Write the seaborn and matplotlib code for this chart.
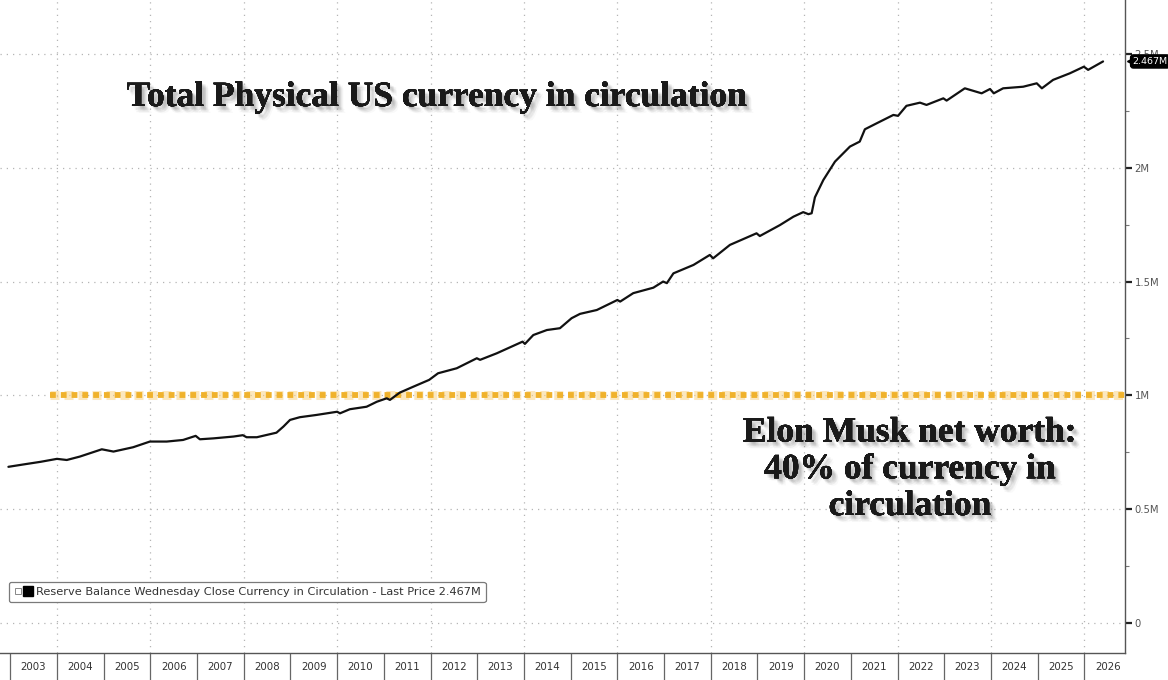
import matplotlib
matplotlib.use("Agg")
import matplotlib.pyplot as plt
import matplotlib.patheffects as pe
from matplotlib.lines import Line2D
from matplotlib.legend_handler import HandlerTuple
from matplotlib.ticker import FixedLocator, FuncFormatter, MultipleLocator
import matplotlib.transforms as mtransforms
import numpy as np
import pandas as pd
import seaborn as sns

# Weekly currency in circulation (trillions of USD, shown as "M" on the axis)
dates = [
    2002.96, 2003.30, 2003.65, 2004.00, 2004.21, 2004.49, 2004.96, 2005.21,
    2005.63, 2005.99, 2006.35, 2006.70, 2006.97, 2007.06, 2007.35, 2007.78,
    2007.98, 2008.06, 2008.28, 2008.49, 2008.70, 2008.85, 2008.99, 2009.20,
    2009.56, 2010.00, 2010.06, 2010.27, 2010.63, 2010.85, 2011.06, 2011.13,
    2011.34, 2011.63, 2011.97, 2012.16, 2012.56, 2012.99, 2013.06, 2013.42,
    2013.97, 2014.02, 2014.20, 2014.49, 2014.77, 2015.02, 2015.20, 2015.56,
    2016.00, 2016.06, 2016.34, 2016.77, 2016.98, 2017.06, 2017.20, 2017.63,
    2017.98, 2018.05, 2018.41, 2018.98, 2019.05, 2019.48, 2019.77, 2019.98,
    2020.09, 2020.16, 2020.23, 2020.41, 2020.66, 2020.98, 2021.19, 2021.30,
    2021.55, 2021.91, 2022.01, 2022.19, 2022.48, 2022.62, 2022.98, 2023.05,
    2023.44, 2023.80, 2023.98, 2024.06, 2024.26, 2024.69, 2024.98, 2025.09,
    2025.33, 2025.69, 2025.99, 2026.08, 2026.40,
]
currency = [
    0.686, 0.697, 0.708, 0.721, 0.716, 0.731, 0.763, 0.753,
    0.772, 0.797, 0.797, 0.804, 0.822, 0.807, 0.811, 0.819,
    0.825, 0.816, 0.816, 0.826, 0.836, 0.863, 0.892, 0.904,
    0.914, 0.928, 0.921, 0.939, 0.950, 0.972, 0.987, 0.980,
    1.012, 1.038, 1.068, 1.097, 1.119, 1.163, 1.156, 1.185,
    1.236, 1.226, 1.265, 1.287, 1.295, 1.339, 1.358, 1.375,
    1.419, 1.412, 1.449, 1.473, 1.500, 1.493, 1.536, 1.573,
    1.617, 1.602, 1.661, 1.712, 1.700, 1.748, 1.785, 1.805,
    1.796, 1.800, 1.870, 1.946, 2.027, 2.093, 2.115, 2.169,
    2.195, 2.232, 2.228, 2.272, 2.286, 2.276, 2.305, 2.295,
    2.349, 2.327, 2.346, 2.327, 2.349, 2.356, 2.371, 2.349,
    2.386, 2.415, 2.444, 2.430, 2.467,
]
last_price = 2.467
last_label = "2.467M"

musk_worth = 1.0          # reference level, trillions
musk_start = 2003.85      # where the reference line begins

years = list(range(2003, 2027))
y_ticks = [0, 0.5, 1.0, 1.5, 2.0, 2.5]

title_text = "Total Physical US currency in circulation"
musk_text = "Elon Musk net worth:\n40% of currency in\ncirculation"
legend_text = ("Reserve Balance Wednesday Close Currency in Circulation"
               " - Last Price 2.467M")

df = pd.DataFrame({"date": dates, "currency": currency})

sns.set_theme(style="white")
plt.rcParams["font.family"] = ["DejaVu Sans"]

W, H = 1168, 680
fig = plt.figure(figsize=(W / 100, H / 100), dpi=100, facecolor="white")
ax = fig.add_axes([0.0, 27 / H, 1125 / W, 653 / H])
ax.set_facecolor("white")

ax.set_xlim(2002.78, 2026.87)
ax.set_ylim(-0.132, 2.737)

grid_kw = dict(color="#b5b5b5", linewidth=0.9, linestyle=(0, (1, 4)), zorder=1)
for yv in y_ticks:
    ax.axhline(yv, **grid_kw)
for yr in years:
    if yr % 2 == 0:
        ax.axvline(yr, **grid_kw)

# Reference level for Musk's net worth: soft halo under square dots
ax.hlines(musk_worth, musk_start, ax.get_xlim()[1], colors="#f9d48a",
          linewidth=6.5, linestyles=[(0, (1, 0.55))], alpha=0.55, zorder=2)
ax.hlines(musk_worth, musk_start, ax.get_xlim()[1], colors="#f0b22c",
          linewidth=4.2, linestyles=[(0, (1, 0.85))], zorder=2.1)

sns.lineplot(data=df, x="date", y="currency", ax=ax, color="#111111",
             linewidth=1.6, zorder=4, legend=False)
ax.set_xlabel("")
ax.set_ylabel("")

# Spines
for side in ("top", "left"):
    ax.spines[side].set_visible(False)
for side in ("right", "bottom"):
    ax.spines[side].set_visible(True)
    ax.spines[side].set_color("#555555")
    ax.spines[side].set_linewidth(1.0)

# Right-hand value axis
ax.yaxis.tick_right()
ax.yaxis.set_major_locator(FixedLocator(y_ticks))
ax.yaxis.set_minor_locator(MultipleLocator(0.25))
ax.yaxis.set_major_formatter(FuncFormatter(
    lambda v, _: "0" if v == 0 else f"{v:g}M"))
ax.tick_params(axis="y", which="major", direction="out", length=5, width=1.6,
               color="#222222", labelsize=7.2, labelcolor="#555555", pad=2,
               left=False, right=True)
ax.tick_params(axis="y", which="minor", direction="out", length=3, width=0.8,
               color="#777777", left=False, right=True)

# Year boxes along the bottom
ax.xaxis.set_major_locator(FixedLocator(years + [2027]))
ax.xaxis.set_major_formatter(FuncFormatter(lambda v, _: ""))
ax.xaxis.set_minor_locator(FixedLocator([y + 0.5 for y in years]))
ax.xaxis.set_minor_formatter(FuncFormatter(lambda v, _: f"{int(v)}"))
ax.tick_params(axis="x", which="major", direction="out", length=20, width=0.9,
               color="#666666", bottom=True)
ax.tick_params(axis="x", which="minor", length=0, labelsize=7.4,
               labelcolor="#333333", pad=6.5, bottom=True)

# Last-price tag on the value axis
blend = mtransforms.blended_transform_factory(ax.transAxes, ax.transData)
ax.plot([1.004], [last_price], marker="<", markersize=5, color="black",
        transform=blend, clip_on=False, zorder=6)
ax.annotate(last_label, xy=(1.0, last_price), xycoords=blend,
            xytext=(5.5, 0), textcoords="offset points", ha="left",
            va="center", fontsize=6.8, color="white", zorder=7,
            annotation_clip=False,
            bbox=dict(boxstyle="round,pad=0.22,rounding_size=0.3",
                      fc="black", ec="black"))

# Legend
handles = [(Line2D([], [], marker="s", markersize=4.5, linestyle="none",
                   markerfacecolor="white", markeredgecolor="#888888",
                   markeredgewidth=0.7),
            Line2D([], [], marker="s", markersize=7, linestyle="none",
                   color="black"))]
leg = ax.legend(handles, [legend_text], loc="lower left",
                bbox_to_anchor=(0.008, 0.078), borderaxespad=0,
                handler_map={tuple: HandlerTuple(ndivide=None, pad=0.1)},
                handlelength=1.6, handletextpad=0.3, fontsize=8.2,
                frameon=True, fancybox=True, edgecolor="#7a7a7a",
                framealpha=1, borderpad=0.45)
leg.get_frame().set_linewidth(0.9)
for t in leg.get_texts():
    t.set_color("#333333")

# Headline annotations with soft drop shadow
shadow = []
for dx, dy, a in [(1.0, -1.0, 0.07), (2.0, -2.0, 0.08), (3.0, -3.0, 0.08),
                  (2.0, -3.0, 0.07), (3.0, -2.0, 0.07), (4.0, -4.0, 0.06),
                  (4.5, -3.0, 0.05), (3.0, -4.5, 0.05), (5.0, -5.0, 0.04)]:
    shadow.append(pe.withSimplePatchShadow(offset=(dx, dy),
                                           shadow_rgbFace="#666666", alpha=a))
shadow.append(pe.Normal())

serif = ["Liberation Serif", "DejaVu Serif"]
fig.text(437 / W, 1 - 106 / H, title_text, ha="center", va="baseline",
         fontsize=25.5, fontweight="bold", family=serif, color="#1a1a1a",
         path_effects=shadow)
# multi-line text: baseline alignment anchors the last line
fig.text(910 / W, 1 - 515 / H, musk_text, ha="center", va="baseline",
         fontsize=25.5, fontweight="bold", family=serif, color="#1a1a1a",
         linespacing=1.15, multialignment="center", path_effects=shadow)

fig.savefig("out.png", dpi=100, facecolor="white")
